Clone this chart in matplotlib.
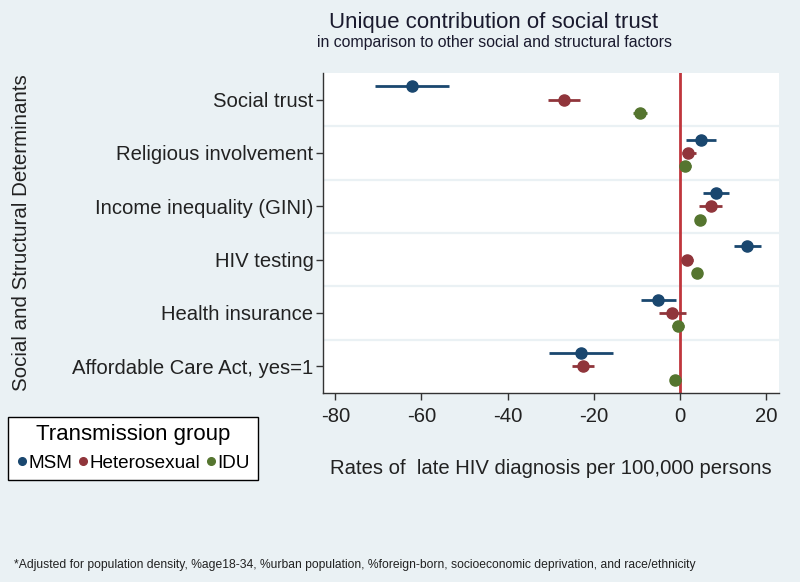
import numpy as np
import matplotlib
matplotlib.use('Agg')
import matplotlib.pyplot as plt
from matplotlib.lines import Line2D

plt.rcParams['font.family'] = ['Liberation Sans', 'DejaVu Sans']

## категории (сверху вниз)
factors = ['Social trust', 'Religious involvement', 'Income inequality (GINI)',
           'HIV testing', 'Health insurance', 'Affordable Care Act, yes=1']
groups = ['MSM', 'Heterosexual', 'IDU']
colors = ['#1a476f', '#90353b', '#55752f']

## оценки и доверительные интервалы
msm_est = [-62.1, 4.8, 8.4, 15.5, -5.1, -23.0]
msm_lo = [-70.8, 1.4, 5.4, 12.5, -9.0, -30.5]
msm_hi = [-53.5, 8.4, 11.4, 18.8, -0.9, -15.5]

het_est = [-27.0, 1.9, 7.1, 1.7, -1.9, -22.6]
het_lo = [-30.7, 0.4, 4.5, 0.4, -5.0, -25.1]
het_hi = [-23.2, 3.6, 9.7, 3.1, 1.3, -20.0]

idu_est = [-9.4, 1.2, 4.7, 3.9, -0.5, -1.1]
idu_lo = [-11.0, -0.1, 4.2, 3.5, -1.9, -2.3]
idu_hi = [-7.6, 2.5, 5.2, 4.4, 0.9, 0.2]

est = [msm_est, het_est, idu_est]
lo = [msm_lo, het_lo, idu_lo]
hi = [msm_hi, het_hi, idu_hi]
offsets = [-0.25, 0.0, 0.25]

bg = '#eaf1f4'
fig = plt.figure(figsize=(8, 5.82), dpi=100, facecolor=bg)
ax = fig.add_axes([0.404, 0.325, 0.570, 0.5496])
ax.set_facecolor('white')

y = np.arange(len(factors))
## разделители между строками
for g in np.arange(0.5, len(factors) - 1, 1.0):
    ax.axhline(g, color='#eaf1f4', lw=1.6, zorder=1)

ax.axvline(0, color='#c0363c', lw=2, zorder=2)

for i in range(3):
    yy = y + offsets[i]
    e = np.array(est[i])
    ax.errorbar(e, yy, xerr=[e - np.array(lo[i]), np.array(hi[i]) - e],
                fmt='o', color=colors[i], ecolor=colors[i], elinewidth=2,
                capsize=0, markersize=8, zorder=3)

ax.set_ylim(len(factors) - 0.5, -0.5)
ax.set_xlim(-82.8, 23.0)
ax.set_yticks(y)
ax.set_yticklabels(factors, fontsize=14.6, color='#222222')
ax.set_xticks([-80, -60, -40, -20, 0, 20])
ax.set_xticklabels(['-80', '-60', '-40', '-20', '0', '20'], fontsize=14.6, color='#222222')
ax.tick_params(direction='out', length=5, color='#333333', width=1)
ax.tick_params(axis='x', pad=5)
ax.tick_params(axis='y', pad=2)
for s in ['top', 'right']:
    ax.spines[s].set_visible(False)
for s in ['left', 'bottom']:
    ax.spines[s].set_color('#333333')
    ax.spines[s].set_linewidth(1)

ax.set_xlabel('Rates of  late HIV diagnosis per 100,000 persons', fontsize=14.6,
              color='#222222', labelpad=24)

fig.text(0.0275, 0.601, 'Social and Structural Determinants', rotation=90,
         fontsize=14.8, color='#222222', ha='center', va='center')

fig.text(0.6175, 0.961, 'Unique contribution of social trust', fontsize=16,
         color='#1a1a2e', ha='center', va='center')
fig.text(0.6175, 0.927, 'in comparison to other social and structural factors',
         fontsize=11.4, color='#1a1a2e', ha='center', va='center')

## легенда
handles = [Line2D([], [], marker='o', ls='', color=c, markersize=5.5) for c in colors]
leg = fig.legend(handles, groups, title='Transmission group', ncol=3,
                 loc='center', bbox_to_anchor=(0.166, 0.23),
                 fontsize=13.6, title_fontsize=16, frameon=True, fancybox=False,
                 edgecolor='black', handletextpad=0.0, columnspacing=0.2,
                 handlelength=0.7, borderpad=0.4, borderaxespad=0)
leg.get_frame().set_linewidth(1)
leg.get_frame().set_facecolor('white')
leg.get_frame().set_alpha(1)

fig.text(0.0175, 0.029, '*Adjusted for population density, %age18-34, %urban population, '
         '%foreign-born, socioeconomic deprivation, and race/ethnicity',
         fontsize=8.7, color='#222222', ha='left', va='center')

fig.savefig('out.png', dpi=100, facecolor=bg)
